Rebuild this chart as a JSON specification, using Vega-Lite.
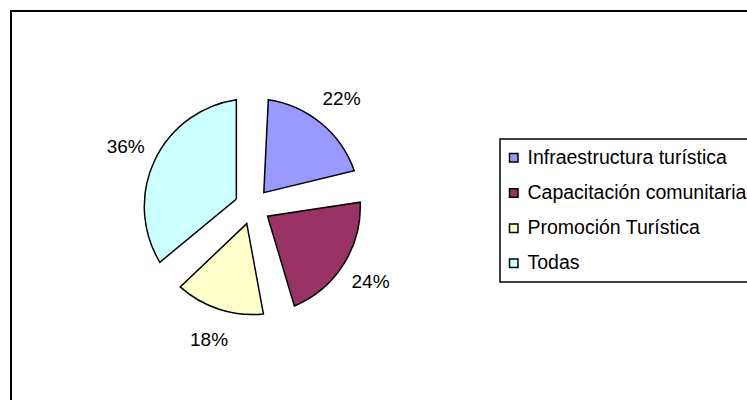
{
  "$schema": "https://vega.github.io/schema/vega-lite/v6.json",
  "width": 738,
  "height": 391,
  "autosize": {"type": "none"},
  "padding": {"left": 11, "top": 11, "right": -2, "bottom": -2},
  "background": "white",
  "config": {
    "view": {"stroke": "#000000", "strokeWidth": 2},
    "font": "Liberation Sans",
    "legend": {"strokeWidth": 1.5}
  },
  "data": {
    "values": [
      {"categoria": "Infraestructura turística", "orden": 1, "proporcion": 0.22},
      {"categoria": "Capacitación comunitaria", "orden": 2, "proporcion": 0.24},
      {"categoria": "Promoción Turística", "orden": 3, "proporcion": 0.18},
      {"categoria": "Todas", "orden": 4, "proporcion": 0.36}
    ]
  },
  "encoding": {
    "theta": {"field": "proporcion", "type": "quantitative", "stack": true},
    "order": {"field": "orden", "type": "quantitative"},
    "x": {"datum": 0.327, "type": "quantitative", "scale": {"domain": [0, 1]}, "axis": null}
  },
  "layer": [
    {
      "mark": {"type": "arc", "outerRadius": 108, "innerRadius": 18, "padAngle": 0.293, "stroke": "#000000", "strokeWidth": 1.5},
      "encoding": {
        "color": {
          "field": "categoria",
          "type": "nominal",
          "scale": {
            "domain": ["Infraestructura turística", "Capacitación comunitaria", "Promoción Turística", "Todas"],
            "range": ["#9999FF", "#993366", "#FFFFCC", "#CCFFFF"]
          },
          "legend": {
            "title": null,
            "orient": "none",
            "legendX": 489,
            "legendY": 128,
            "symbolType": "square",
            "symbolSize": 72,
            "symbolStrokeColor": "#000000",
            "symbolStrokeWidth": 1.5,
            "symbolOpacity": 1,
            "symbolOffset": -5,
            "labelFont": "Liberation Sans",
            "labelFontSize": 19.5,
            "labelColor": "#000000",
            "labelOffset": 4,
            "labelLimit": 400,
            "rowPadding": 14.2,
            "padding": 9,
            "strokeColor": "#000000"
          }
        }
      }
    },
    {
      "mark": {"type": "text", "radius": 140, "fontSize": 19, "font": "Liberation Sans", "color": "#000000"},
      "encoding": {
        "text": {"field": "proporcion", "type": "quantitative", "format": ".0%"}
      }
    }
  ]
}
